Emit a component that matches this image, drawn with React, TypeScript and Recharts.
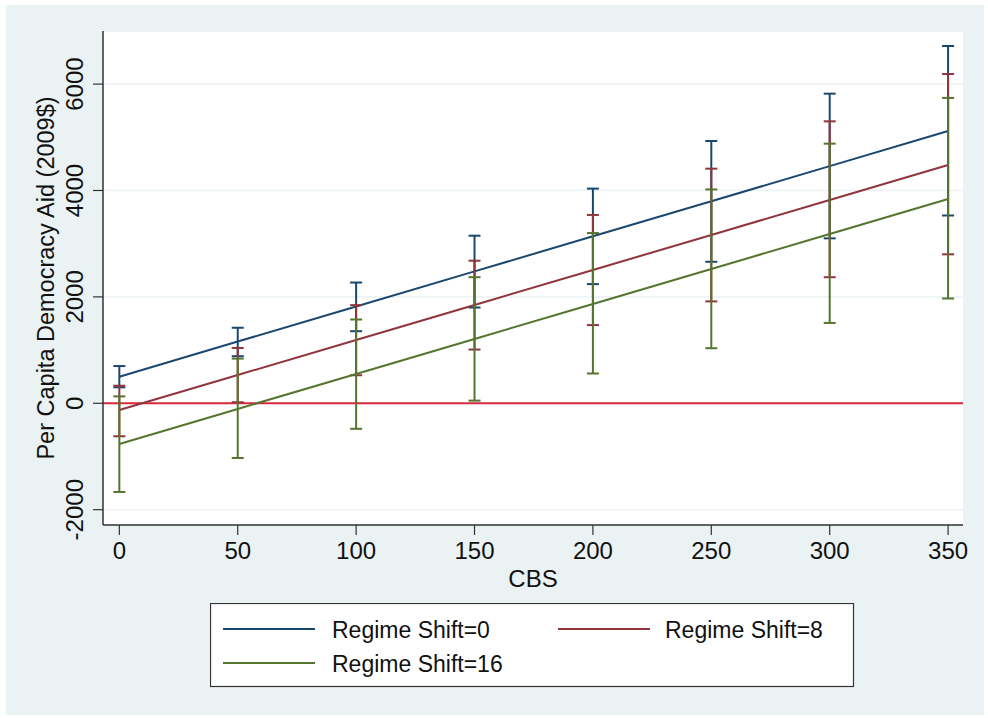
import React from "react";
import {
  CartesianGrid,
  ComposedChart,
  ErrorBar,
  Label,
  Line,
  ReferenceLine,
  XAxis,
  YAxis,
} from "recharts";

// CBS values on the x axis
const CBS = [0, 50, 100, 150, 200, 250, 300, 350];

// predicted aid, with 95% CI bounds, for each regime shift level
const SHIFT0 = [500, 1160, 1819, 2479, 3139, 3798, 4458, 5118];
const SHIFT0_LO = [300, 885, 1355, 1800, 2240, 2660, 3100, 3530];
const SHIFT0_HI = [700, 1420, 2270, 3150, 4035, 4930, 5820, 6716];

const SHIFT8 = [-126, 532, 1190, 1848, 2506, 3164, 3822, 4480];
const SHIFT8_LO = [-620, 20, 527, 1010, 1470, 1915, 2370, 2800];
const SHIFT8_HI = [330, 1040, 1845, 2680, 3540, 4410, 5300, 6190];

const SHIFT16 = [-765, -107, 551, 1209, 1867, 2525, 3182, 3840];
const SHIFT16_LO = [-1667, -1028, -480, 50, 560, 1035, 1510, 1970];
const SHIFT16_HI = [130, 840, 1575, 2370, 3200, 4020, 4880, 5740];

const X_TICKS = [0, 50, 100, 150, 200, 250, 300, 350];
const Y_TICKS = [-2000, 0, 2000, 4000, 6000];

const NAVY = "#1a476f";
const MAROON = "#90353b";
const FOREST = "#55752f";
const ZERO_RED = "#d8293f";
const BG = "#eaf2f3";
const AXIS = "#333333";
const FONT = '"Liberation Sans", Arial, Helvetica, sans-serif';

const data = CBS.map((cbs, i) => ({
  cbs,
  s0: SHIFT0[i],
  s0err: [SHIFT0[i] - SHIFT0_LO[i], SHIFT0_HI[i] - SHIFT0[i]],
  s8: SHIFT8[i],
  s8err: [SHIFT8[i] - SHIFT8_LO[i], SHIFT8_HI[i] - SHIFT8[i]],
  s16: SHIFT16[i],
  s16err: [SHIFT16[i] - SHIFT16_LO[i], SHIFT16_HI[i] - SHIFT16[i]],
}));

const LEGEND = [
  { name: "Regime Shift=0", color: NAVY },
  { name: "Regime Shift=8", color: MAROON },
  { name: "Regime Shift=16", color: FOREST },
];

function XTick(props: any) {
  const { x, y, payload } = props;
  return (
    <text x={x} y={y + 22} textAnchor="middle" fontSize={24} fontFamily={FONT} fill="#111">
      {payload.value}
    </text>
  );
}

function YTick(props: any) {
  const { x, y, payload } = props;
  const bx = x - 8;
  return (
    <text
      x={bx}
      y={y}
      textAnchor="middle"
      transform={`rotate(-90, ${bx}, ${y})`}
      fontSize={24}
      fontFamily={FONT}
      fill="#111"
    >
      {payload.value}
    </text>
  );
}

function XTitle(props: any) {
  const vb = props.viewBox;
  return (
    <text x={vb.x + vb.width / 2} y={vb.y + 62} textAnchor="middle" fontSize={24} fontFamily={FONT} fill="#111">
      CBS
    </text>
  );
}

function YTitle(props: any) {
  const vb = props.viewBox;
  const cx = vb.x + 53.5;
  const cy = vb.y + vb.height / 2;
  return (
    <text
      x={cx}
      y={cy}
      textAnchor="middle"
      transform={`rotate(-90, ${cx}, ${cy})`}
      fontSize={23.5}
      fontFamily={FONT}
      fill="#111"
    >
      Per Capita Democracy Aid (2009$)
    </text>
  );
}

function StataLegend() {
  // two-column legend box under the plot, Stata style
  const slots = [
    { lx: 13, tx: 122, ty: 35 },
    { lx: 348, tx: 455, ty: 35 },
    { lx: 13, tx: 122, ty: 69 },
  ];
  return (
    <svg width={645} height={85} style={{ position: "absolute", left: 210, top: 603 }}>
      <rect x={0.5} y={0.5} width={643} height={83} fill="#fff" stroke={AXIS} strokeWidth={1.2} />
      {LEGEND.map((item, i) => {
        const s = slots[i];
        return (
          <g key={item.name}>
            <line x1={s.lx} x2={s.lx + 92} y1={s.ty - 9} y2={s.ty - 9} stroke={item.color} strokeWidth={2} />
            <text x={s.tx} y={s.ty} fontSize={23} fontFamily={FONT} fill="#111">
              {item.name}
            </text>
          </g>
        );
      })}
    </svg>
  );
}

export default function App() {
  return (
    <div style={{ position: "absolute", left: 0, top: 0, width: 988, height: 718, background: "#fff" }}>
      <div style={{ position: "absolute", left: 6, top: 5, width: 978, height: 710, background: BG }} />
      <div style={{ position: "absolute", left: 0, top: 0 }}>
        <ComposedChart width={988} height={718} data={data} margin={{ top: 31, right: 25, bottom: 133, left: 0 }}>
          <CartesianGrid horizontal vertical={false} fill="#fff" stroke={BG} strokeWidth={1.5} />
          <XAxis
            dataKey="cbs"
            type="number"
            domain={[-6.9, 356.3]}
            ticks={X_TICKS}
            allowDataOverflow
            height={60}
            tickSize={10}
            tick={<XTick />}
            axisLine={{ stroke: AXIS, strokeWidth: 1.5 }}
            tickLine={{ stroke: AXIS, strokeWidth: 1.2 }}
          >
            <Label content={<XTitle />} />
          </XAxis>
          <YAxis
            type="number"
            domain={[-2288, 6998]}
            ticks={Y_TICKS}
            allowDataOverflow
            width={103}
            tickSize={10}
            tick={<YTick />}
            axisLine={{ stroke: AXIS, strokeWidth: 1.5 }}
            tickLine={{ stroke: AXIS, strokeWidth: 1.2 }}
          >
            <Label content={<YTitle />} />
          </YAxis>
          <ReferenceLine y={0} stroke={ZERO_RED} strokeWidth={2} />
          <Line dataKey="s0" type="linear" stroke={NAVY} strokeWidth={2} dot={false} isAnimationActive={false}>
            <ErrorBar dataKey="s0err" direction="y" width={6} stroke={NAVY} strokeWidth={2} />
          </Line>
          <Line dataKey="s8" type="linear" stroke={MAROON} strokeWidth={2} dot={false} isAnimationActive={false}>
            <ErrorBar dataKey="s8err" direction="y" width={6} stroke={MAROON} strokeWidth={2} />
          </Line>
          <Line dataKey="s16" type="linear" stroke={FOREST} strokeWidth={2} dot={false} isAnimationActive={false}>
            <ErrorBar dataKey="s16err" direction="y" width={6} stroke={FOREST} strokeWidth={2} />
          </Line>
        </ComposedChart>
      </div>
      <StataLegend />
    </div>
  );
}
